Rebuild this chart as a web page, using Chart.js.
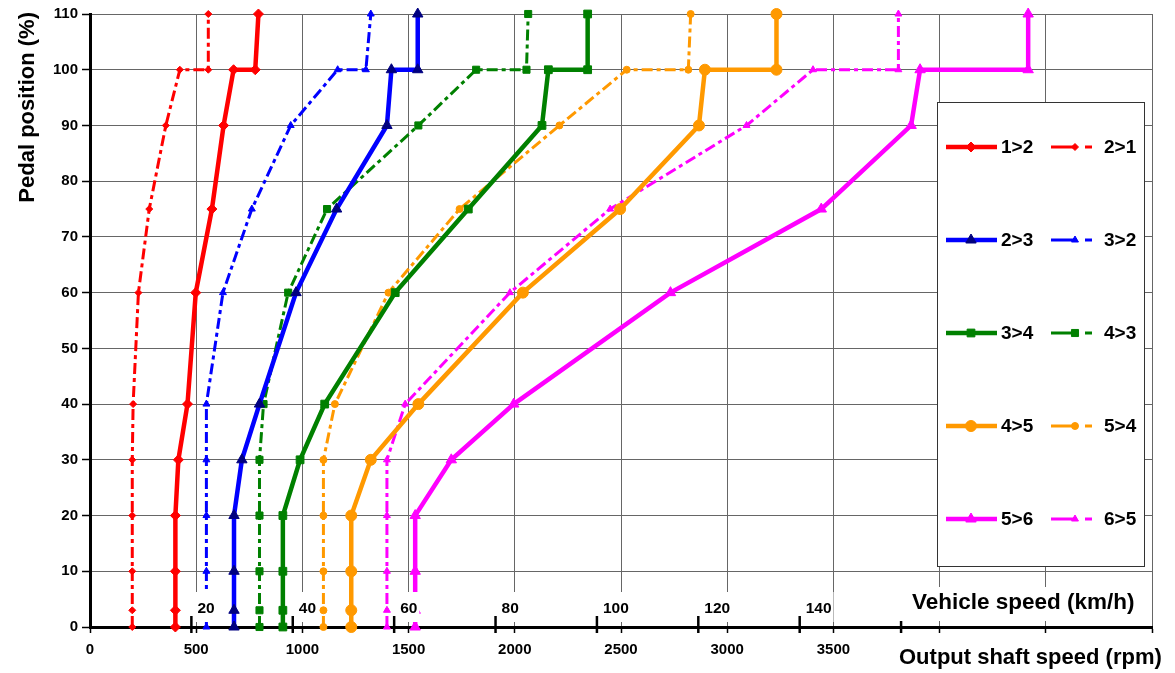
<!DOCTYPE html>
<html><head><meta charset="utf-8">
<script src="https://cdn.jsdelivr.net/npm/chart.js@4.4.1/dist/chart.umd.min.js"></script>
<style>html,body{margin:0;padding:0;background:#fff}#wrap{width:1175px;height:673px;position:relative}</style>
</head><body><div id="wrap"><canvas id="c"></canvas></div>
<script>
// ---- data ----
const pedal = [0, 3, 10, 20, 30, 40, 60, 75, 90, 100, 100, 110];
const up12   = [402, 402, 402, 402, 416, 459, 498, 574, 629, 676, 778, 793];
const down21 = [199, 199, 199, 199, 199, 203, 228, 279, 357, 423, 557, 557];
const up23   = [678, 678, 678, 678, 715, 798, 970, 1161, 1398, 1419, 1543, 1543];
const down32 = [548, 548, 548, 548, 548, 548, 626, 762, 945, 1166, 1299, 1322];
const up34   = [908, 908, 908, 908, 989, 1105, 1437, 1781, 2128, 2158, 2343, 2343];
const down43 = [798, 798, 798, 798, 798, 817, 933, 1116, 1546, 1818, 2055, 2063];
const up45   = [1230, 1230, 1230, 1230, 1322, 1546, 2038, 2496, 2867, 2895, 3232, 3232];
const down54 = [1099, 1099, 1099, 1099, 1099, 1153, 1405, 1740, 2210, 2527, 2817, 2828];
const up56   = [1531, 1531, 1531, 1531, 1701, 1995, 2733, 3443, 3866, 3908, 4417, 4417];
const down65 = [1398, 1398, 1398, 1398, 1398, 1484, 1977, 2449, 3091, 3404, 3806, 3806];
const seriesNames = ['1>2', '2>1', '2>3', '3>2', '3>4', '4>3', '4>5', '5>4', '5>6', '6>5'];

const rpmTicks = [0, 500, 1000, 1500, 2000, 2500, 3000, 3500, 4000, 4500, 5000];
const rpmTickLabels = ['0', '500', '1000', '1500', '2000', '2500', '3000', '3500', '', '', ''];
const pedalTicks = [0, 10, 20, 30, 40, 50, 60, 70, 80, 90, 100, 110];
const kmhTicks = [20, 40, 60, 80, 100, 120, 140, 160];
const kmhTickLabels = ['20', '40', '60', '80', '100', '120', '140', ''];
const kmhMax = 209.5; // vehicle speed matching 5000 rpm output shaft speed

// ---- styles ----
const FONT = '"Liberation Sans", Arial, Helvetica, sans-serif';
const DASH = [11, 4, 4, 4];
function mk(label, xs, color, markColor, style, radius, dashed) {
  return {
    label,
    data: xs.map((x, i) => ({ x, y: pedal[i] })),
    borderColor: color,
    backgroundColor: color,
    borderWidth: dashed ? 3 : 4.5,
    borderDash: dashed ? DASH : [],
    pointStyle: style,
    pointRadius: radius,
    pointHoverRadius: radius,
    pointBackgroundColor: markColor,
    pointBorderColor: markColor,
    pointBorderWidth: 1,
    showLine: true,
    tension: 0,
    clip: false,
    xAxisID: 'x', yAxisID: 'y'
  };
}
const RED = '#FF0000', BLUE = '#0000FF', NAVY = '#000080', GREEN = '#008000', ORANGE = '#FF9900', MAG = '#FF00FF';
const datasets = [
  mk(seriesNames[0], up12, RED, RED, 'rectRot', 5, false),
  mk(seriesNames[1], down21, RED, RED, 'rectRot', 3.5, true),
  mk(seriesNames[2], up23, BLUE, NAVY, 'triangle', 6, false),
  mk(seriesNames[3], down32, BLUE, BLUE, 'triangle', 4, true),
  mk(seriesNames[4], up34, GREEN, GREEN, 'rect', 5.5, false),
  mk(seriesNames[5], down43, GREEN, GREEN, 'rect', 5, true),
  mk(seriesNames[6], up45, ORANGE, ORANGE, 'circle', 5.5, false),
  mk(seriesNames[7], down54, ORANGE, ORANGE, 'circle', 3.5, true),
  mk(seriesNames[8], up56, MAG, MAG, 'triangle', 6, false),
  mk(seriesNames[9], down65, MAG, MAG, 'triangle', 4, true)
];

function drawMarker(ctx, style, x, y, r, color) {
  ctx.save();
  ctx.fillStyle = color; ctx.strokeStyle = color; ctx.lineWidth = 1; ctx.setLineDash([]);
  ctx.beginPath();
  if (style === 'circle') {
    ctx.arc(x, y, r, 0, Math.PI * 2);
  } else if (style === 'rect') {
    const s = r * Math.SQRT1_2;
    ctx.rect(x - s, y - s, 2 * s, 2 * s);
  } else if (style === 'rectRot') {
    ctx.moveTo(x - r, y); ctx.lineTo(x, y - r); ctx.lineTo(x + r, y); ctx.lineTo(x, y + r); ctx.closePath();
  } else if (style === 'triangle') {
    for (let k = 0; k < 3; k++) {
      const a = -Math.PI / 2 + k * 2 * Math.PI / 3;
      const px = x + Math.cos(a) * r, py = y + Math.sin(a) * r;
      if (k === 0) ctx.moveTo(px, py); else ctx.lineTo(px, py);
    }
    ctx.closePath();
  }
  ctx.fill(); ctx.stroke();
  ctx.restore();
}

const overlayPlugin = {
  id: 'overlay',
  afterDatasetsDraw(chart) {
    const ctx = chart.ctx;
    const ca = chart.chartArea;
    const s2 = chart.scales.x2;
    ctx.save();
    // vehicle speed secondary ticks and labels
    ctx.font = 'bold 15.5px ' + FONT;
    ctx.textBaseline = 'middle'; ctx.textAlign = 'left';
    kmhTicks.forEach((v, i) => {
      const px = s2.getPixelForValue(v);
      const lab = kmhTickLabels[i];
      if (lab) {
        const w = ctx.measureText(lab).width;
        ctx.fillStyle = '#fff';
        ctx.fillRect(px + 3, ca.bottom - 35, w + 5, 30);
        ctx.fillStyle = '#000';
        ctx.fillText(lab, px + 6, ca.bottom - 18);
      }
      ctx.strokeStyle = '#000'; ctx.lineWidth = 2.5;
      ctx.beginPath(); ctx.moveTo(px, ca.bottom - 11); ctx.lineTo(px, ca.bottom + 6); ctx.stroke();
    });
    // vehicle speed title
    ctx.fillStyle = '#fff';
    ctx.fillRect(898, ca.bottom - 40, 250, 34);
    ctx.fillStyle = '#000';
    ctx.textBaseline = 'alphabetic';
    ctx.font = 'bold 22.5px ' + FONT;
    ctx.fillText('Vehicle speed (km/h)', 912, 609);
    ctx.font = 'bold 22px ' + FONT;
    ctx.fillText('Output shaft speed (rpm)', 899, 664);
    // y title
    ctx.save();
    ctx.translate(34, 12);
    ctx.rotate(-Math.PI / 2);
    ctx.textAlign = 'right';
    ctx.fillText('Pedal position (%)', 0, 0);
    ctx.restore();
    // legend
    const lx = 937, ly = 102, lw = 207, lh = 464;
    ctx.fillStyle = '#fff'; ctx.fillRect(lx, ly, lw, lh);
    ctx.strokeStyle = '#333'; ctx.lineWidth = 1; ctx.strokeRect(lx + 0.5, ly + 0.5, lw, lh);
    chart.data.datasets.forEach((ds, i) => {
      const row = Math.floor(i / 2), col = i % 2;
      const y = 147 + row * 93;
      const x0 = col ? 1051 : 946, x1 = col ? 1092 : 997, mx = col ? 1075 : 971, tx = col ? 1104 : 1001;
      ctx.strokeStyle = ds.borderColor; ctx.lineWidth = ds.borderWidth;
      ctx.lineCap = 'butt';
      ctx.setLineDash(col ? [26, 8, 7, 60] : []);
      ctx.beginPath(); ctx.moveTo(x0, y); ctx.lineTo(x1, y); ctx.stroke();
      ctx.setLineDash([]);
      drawMarker(ctx, ds.pointStyle, mx, y, ds.pointRadius, ds.pointBackgroundColor);
      ctx.fillStyle = '#000'; ctx.font = 'bold 19px ' + FONT;
      ctx.textBaseline = 'middle'; ctx.textAlign = 'left';
      ctx.fillText(ds.label, tx, y + 1);
    });
    ctx.restore();
  }
};

Chart.defaults.font.family = FONT;
Chart.defaults.font.size = 15;
Chart.defaults.font.weight = 'bold';
Chart.defaults.color = '#000';

new Chart(document.getElementById('c'), {
  type: 'scatter',
  data: { datasets },
  options: {
    responsive: true,
    maintainAspectRatio: false,
    animation: false,
    devicePixelRatio: 1,
    layout: { padding: { left: 0, right: 23, top: 14, bottom: 0 } },
    plugins: { legend: { display: false }, tooltip: { enabled: false } },
    elements: { line: { borderCapStyle: 'butt', borderJoinStyle: 'miter' } },
    scales: {
      x: {
        type: 'linear', position: 'bottom', min: 0, max: 5000,
        afterBuildTicks: s => { s.ticks = rpmTicks.map(v => ({ value: v })); },
        afterFit: s => { s.height = 46; },
        grid: { color: '#666', lineWidth: 1, drawTicks: true, tickLength: 6, tickColor: '#000', tickWidth: 1.5 },
        border: { display: true, color: '#000', width: 3 },
        ticks: { autoSkip: false, maxRotation: 0, padding: 8, callback: (v, i) => rpmTickLabels[i] }
      },
      x2: { type: 'linear', position: 'bottom', min: 0, max: kmhMax, display: false },
      y: {
        type: 'linear', position: 'left', min: 0, max: 110,
        afterBuildTicks: s => { s.ticks = pedalTicks.map(v => ({ value: v })); },
        afterFit: s => { s.width = 90; },
        grid: { color: '#666', lineWidth: 1, drawTicks: true, tickLength: 8, tickColor: '#000', tickWidth: 1.5 },
        border: { display: true, color: '#000', width: 3 },
        ticks: { autoSkip: false, padding: 4, callback: v => String(v) }
      }
    }
  },
  plugins: [overlayPlugin]
});
</script></body></html>
